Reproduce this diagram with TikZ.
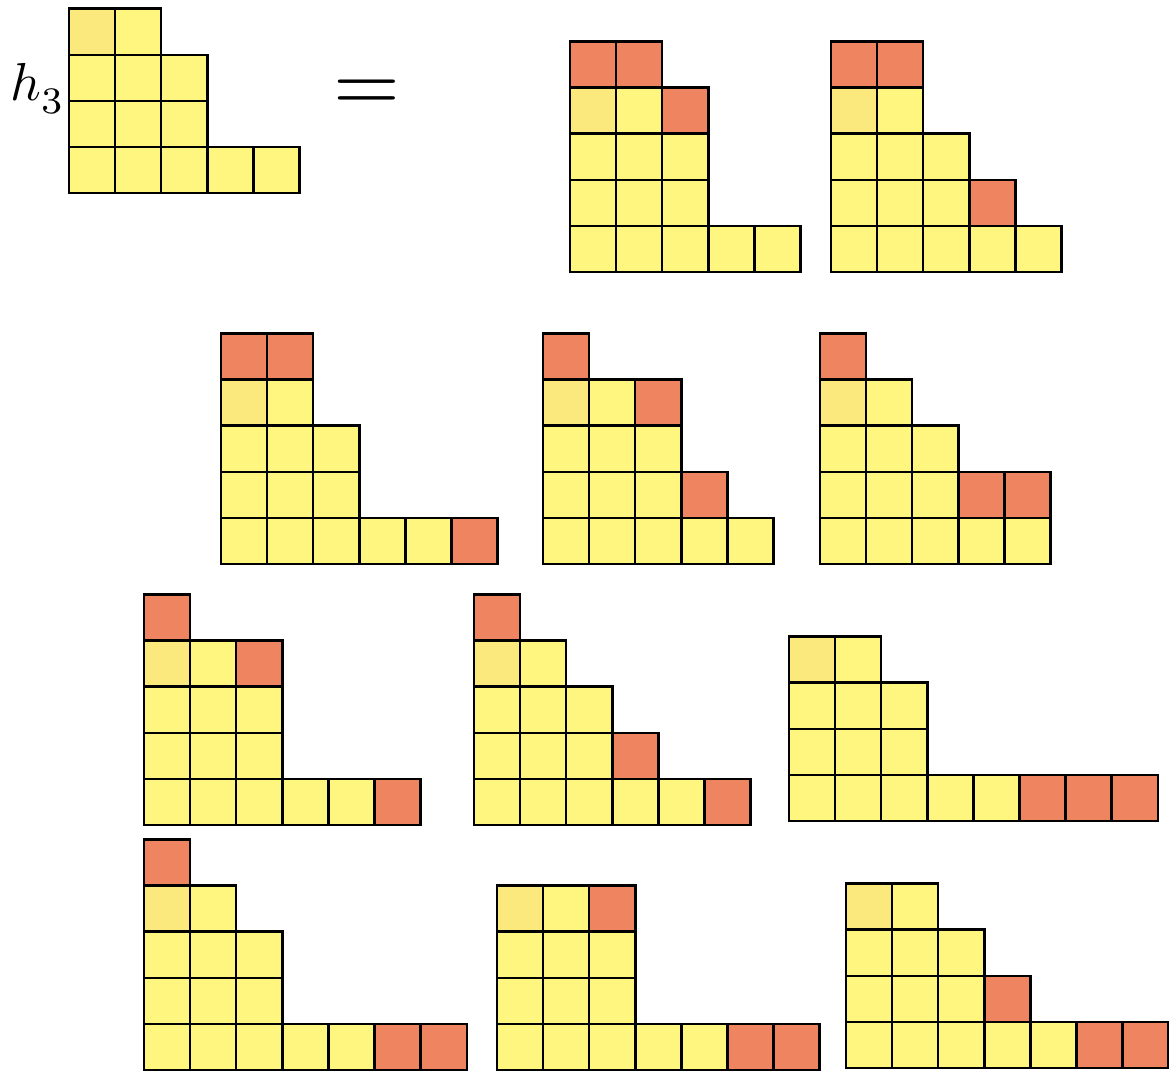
\documentclass[tikz,border=0pt]{standalone}
\definecolor{cellY}{HTML}{FFF67F}
\definecolor{cellD}{HTML}{FBE97D}
\definecolor{cellR}{HTML}{EF8560}
\tikzset{
  yc/.style={fill=cellY,draw=black,line width=1.5pt},
  dc/.style={fill=cellD,draw=black,line width=1.5pt},
  rc/.style={fill=cellR,draw=black,line width=1.5pt}
}
\newcommand\basediag[2]{%
  \begin{scope}[shift={(#1,#2)}]
    \foreach \c in {0,...,4} \draw[yc] (\c,0) rectangle ++(1,1);
    \foreach \r in {1,2} \foreach \c in {0,1,2} \draw[yc] (\c,\r) rectangle ++(1,1);
    \draw[dc] (0,3) rectangle ++(1,1);
    \draw[yc] (1,3) rectangle ++(1,1);
  \end{scope}}
\newcommand\redcells[3]{%
  \begin{scope}[shift={(#1,#2)}]
    \foreach \c/\r in {#3} \draw[rc] (\c,\r) rectangle ++(1,1);
  \end{scope}}
\begin{document}
\begin{tikzpicture}
\useasboundingbox (0,0) rectangle (25.358,-23.254);
% left side
\basediag{1.497}{-4.187}
\node[anchor=base west,inner sep=0pt,scale=3.3] (h3) at (0.2,-2.17) {$h_{\lower1.1pt\hbox{$\scriptstyle 3$}}$};
\node[anchor=center,inner sep=0pt,scale=5.3] (eq) at (7.95,-2.08) {$=$};
% row 1
\basediag{12.364}{-5.900}\redcells{12.364}{-5.900}{0/4,1/4,2/3}
\basediag{18.026}{-5.900}\redcells{18.026}{-5.900}{0/4,1/4,3/1}
% row 2
\basediag{4.794}{-12.234}\redcells{4.794}{-12.234}{0/4,1/4,5/0}
\basediag{11.779}{-12.234}\redcells{11.779}{-12.234}{0/4,2/3,3/1}
\basediag{17.787}{-12.234}\redcells{17.787}{-12.234}{0/4,3/1,4/1}
% row 3
\basediag{3.124}{-17.896}\redcells{3.124}{-17.896}{0/4,2/3,5/0}
\basediag{10.282}{-17.896}\redcells{10.282}{-17.896}{0/4,3/1,5/0}
\basediag{17.115}{-17.809}\redcells{17.115}{-17.809}{5/0,6/0,7/0}
% row 4
\basediag{3.124}{-23.210}\redcells{3.124}{-23.210}{0/4,5/0,6/0}
\basediag{10.781}{-23.210}\redcells{10.781}{-23.210}{2/3,5/0,6/0}
\basediag{18.351}{-23.167}\redcells{18.351}{-23.167}{3/1,5/0,6/0}
\end{tikzpicture}
\end{document}
